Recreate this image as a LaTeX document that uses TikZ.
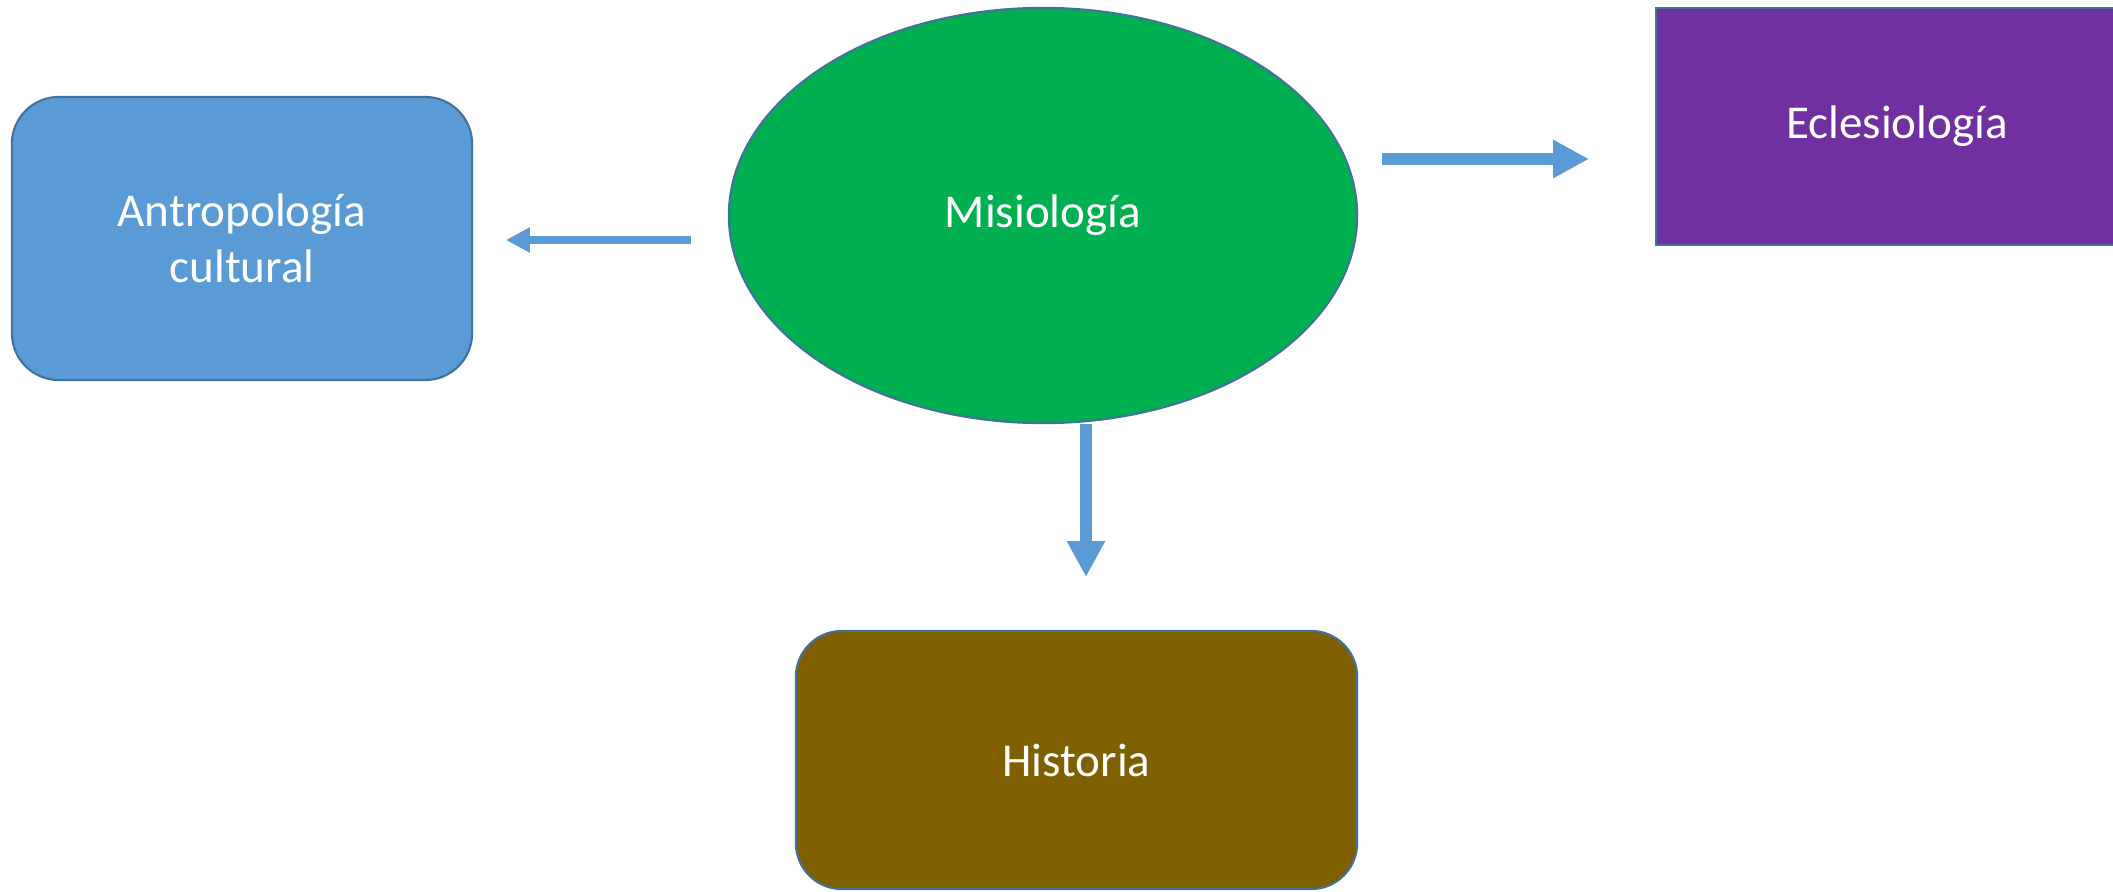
\documentclass[tikz,border=0pt]{standalone}
\usepackage{fontspec}
\setmainfont{Carlito}
\usetikzlibrary{arrows.meta,shapes.geometric}

\definecolor{boxblue}{HTML}{5B9BD5}
\definecolor{edgeblue}{HTML}{41719C}
\definecolor{misgreen}{HTML}{00B050}
\definecolor{eclpurple}{HTML}{7030A0}
\definecolor{histbrown}{HTML}{7F6000}

\tikzset{
  topic/.style={draw=edgeblue, line width=0.6pt, text=white, align=center,
    font=\fontsize{13.4}{16}\selectfont, inner sep=0pt},
  bigarrow/.style={draw=boxblue, line width=3.4pt, -{Triangle[length=10.2pt,width=10.2pt]}},
  smallarrow/.style={draw=boxblue, line width=2pt, -{Triangle[length=6.8pt,width=6.8pt]}},
}

\begin{document}
\begin{tikzpicture}[x=0.01cm, y=-0.01cm]
\useasboundingbox (0,0) rectangle (2113,891);
\node[topic, ellipse, fill=misgreen, minimum width=6.28cm, minimum height=4.15cm] (mis) at (1043,215.5) {Misiología}; % centre
\node[topic, rounded corners=0.47cm, fill=boxblue, minimum width=4.6cm, minimum height=2.83cm] (antro) at (242,238.5) {Antropología\\cultural}; % left
\node[topic, fill=eclpurple, minimum width=4.82cm, minimum height=2.37cm] (ecl) at (1897,126.5) {Eclesiología}; % right, cut off
\node[topic, rounded corners=0.46cm, fill=histbrown, minimum width=5.61cm, minimum height=2.58cm] (hist) at (1076.5,760) {Historia}; % bottom
\coordinate (misW) at (691,240) ; % mis -> antro
\coordinate (antroE) at (506,240) ;
\coordinate (misE) at (1382,159) ; % mis -> ecl
\coordinate (eclW) at (1589,159) ;
\coordinate (misS) at (1086,424) ; % mis -> hist
\coordinate (histN) at (1086,577) ;
\draw[smallarrow] (misW) -- (antroE) ;
\draw[bigarrow] (misE) -- (eclW) ;
\draw[bigarrow] (misS) -- (histN) ;
\end{tikzpicture}
\end{document}
